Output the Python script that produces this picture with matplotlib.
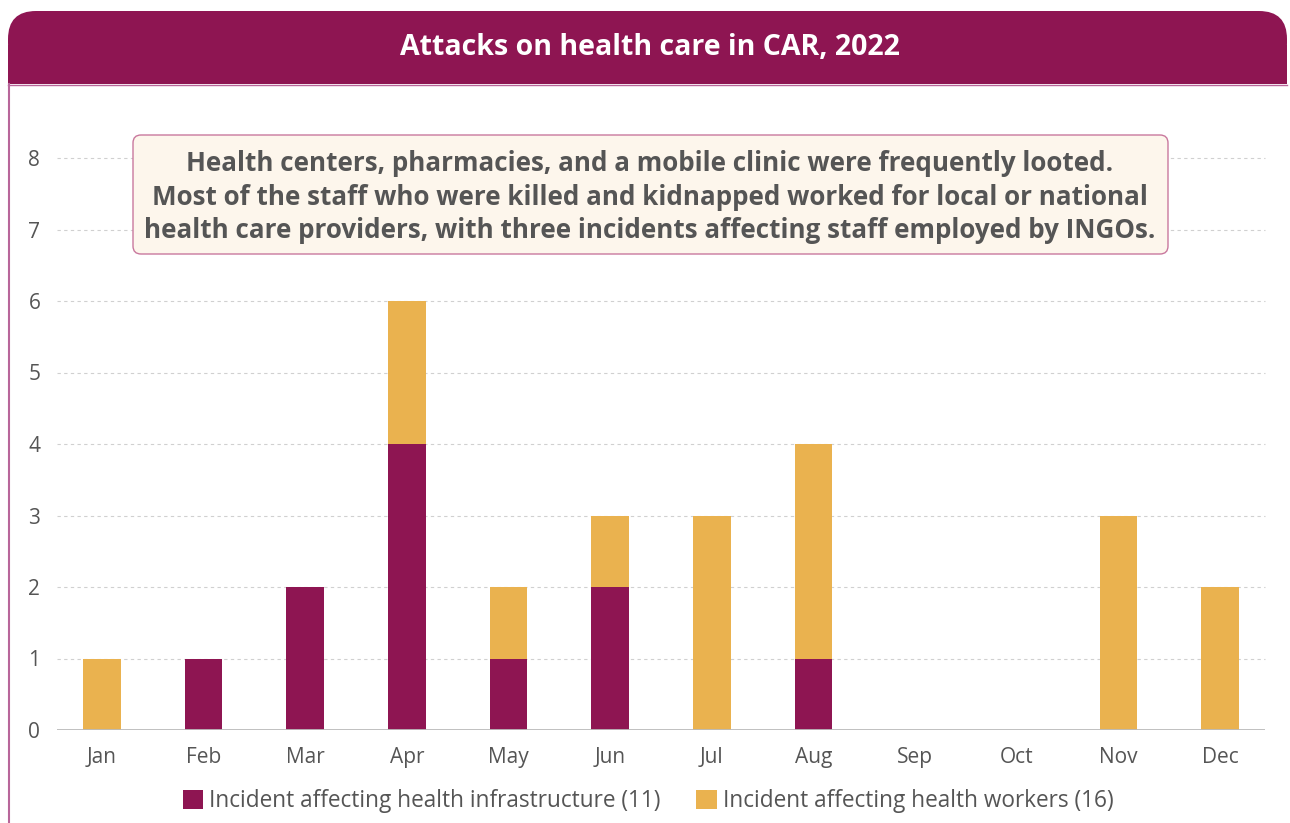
import matplotlib
matplotlib.use("Agg")
import matplotlib.pyplot as plt
from matplotlib.patches import FancyBboxPatch, Rectangle
import numpy as np

months = ["Jan", "Feb", "Mar", "Apr", "May", "Jun", "Jul", "Aug", "Sep", "Oct", "Nov", "Dec"]
infrastructure = [0, 1, 2, 4, 1, 2, 0, 1, 0, 0, 0, 0]
workers = [1, 0, 0, 2, 1, 1, 3, 3, 0, 0, 3, 2]
yticks = [0, 1, 2, 3, 4, 5, 6, 7, 8]
labels = ["Incident affecting health infrastructure (11)", "Incident affecting health workers (16)"]
title = "Attacks on health care in CAR, 2022"
note = ("Health centers, pharmacies, and a mobile clinic were frequently looted.\n"
        "Most of the staff who were killed and kidnapped worked for local or national\n"
        "health care providers, with three incidents affecting staff employed by INGOs.")

PURPLE = "#8E1552"
GOLD = "#EAB24F"
GRAY = "#555555"
BORDER = "#B8669A"
FONT = "Open Sans"

W, H = 1290, 823
fig = plt.figure(figsize=(W / 100, H / 100), dpi=100)
fig.patch.set_facecolor("white")

# background decoration axes in pixel coordinates
bg = fig.add_axes([0, 0, 1, 1], zorder=0)
bg.set_xlim(0, W)
bg.set_ylim(H, 0)
bg.axis("off")
bg.add_patch(FancyBboxPatch((8, 11), 1287 - 8, 60, boxstyle="round,pad=0,rounding_size=28",
                            facecolor=PURPLE, edgecolor="none"))
bg.add_patch(Rectangle((8, 45), 1287 - 8, 39, facecolor=PURPLE, edgecolor="none"))
bg.plot([8.5, 8.5], [84, H], color=BORDER, lw=1.5)
bg.plot([8, 1287], [84.5, 84.5], color=BORDER, lw=1)

# main axes
x0, x1 = 57, 1265
ytop, ybot = 158, 730
ax = fig.add_axes([x0 / W, (H - ybot) / H, (x1 - x0) / W, (ybot - ytop) / H], zorder=1)
ax.patch.set_alpha(0)
x = np.arange(len(months))
bw = 0.37
ax.bar(x, infrastructure, width=bw, color=PURPLE, zorder=3, label=labels[0])
ax.bar(x, workers, width=bw, bottom=infrastructure, color=GOLD, zorder=3, label=labels[1])
ax.set_xlim(-0.44, 11.44)
ax.set_ylim(0, 8)
ax.set_yticks(yticks)
ax.set_xticks(x)
ax.set_xticklabels(months)
for y in yticks[1:]:
    ax.axhline(y, color="#D0D0D0", lw=0.8, ls=(0, (3, 3)), zorder=1, clip_on=False)
ax.axhline(0, color="#BBBBBB", lw=1.3, zorder=4)
for s in ax.spines.values():
    s.set_visible(False)
ax.tick_params(length=0, labelsize=15, labelcolor=GRAY, pad=12)
ax.tick_params(axis="x", pad=12)
for t in ax.get_xticklabels() + ax.get_yticklabels():
    t.set_fontfamily(FONT)

# overlay axes
ov = fig.add_axes([0, 0, 1, 1], zorder=5)
ov.set_xlim(0, W)
ov.set_ylim(H, 0)
ov.axis("off")
ov.patch.set_alpha(0)
ov.text(650, 47, title, color="white", fontsize=20.5, fontweight="bold", family=FONT,
        ha="center", va="center")
ov.add_patch(FancyBboxPatch((133, 135), 1168 - 133, 254 - 135, boxstyle="round,pad=0,rounding_size=8",
                            facecolor="#FDF6EC", edgecolor="#C9789E", lw=1))
ov.text(650, 197, note, color=GRAY, fontsize=18.7, fontweight="bold", family=FONT,
        ha="center", va="center", linespacing=1.33)

# legend
handles, labs = ax.get_legend_handles_labels()
leg = fig.legend(handles, labs, loc="center", bbox_to_anchor=(648 / W, (H - 801) / H), ncol=2,
                 frameon=False, prop={"family": FONT, "size": 16.3}, handlelength=0.9,
                 handleheight=0.9, handletextpad=0.25, columnspacing=1.6)
for t in leg.get_texts():
    t.set_color(GRAY)

fig.savefig("out.png", dpi=100)
